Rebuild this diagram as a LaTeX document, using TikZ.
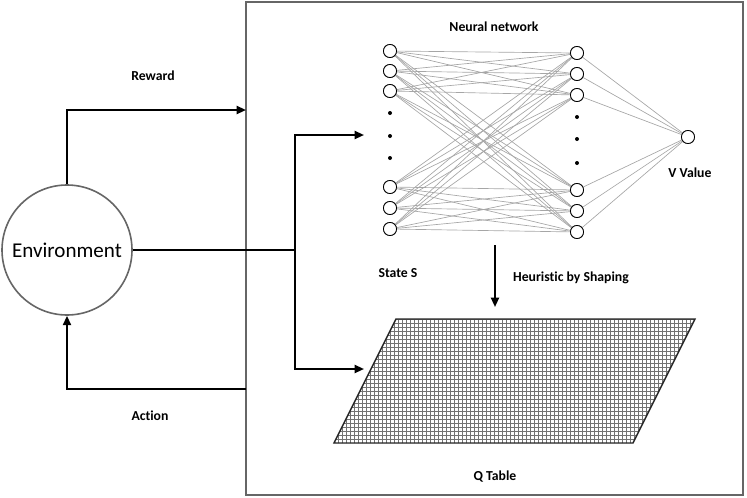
\documentclass[tikz,border=0pt]{standalone}
\usepackage{fontspec}
\setmainfont{Carlito}[Ligatures={NoCommon}]
\usetikzlibrary{arrows.meta}
\begin{document}
\begin{tikzpicture}[x=0.75pt,y=-0.75pt,
  neuron/.style={circle,draw=black,fill=white,line width=0.6pt,minimum size=9.8pt,inner sep=0pt},
  dotnode/.style={circle,fill=black,minimum size=3pt,inner sep=0pt},
  conn/.style={draw=gray!70,line width=0.5pt},
  flow/.style={draw=black,line width=1.5pt},
  flowarrow/.style={flow,-{Triangle[length=7pt,width=6pt]}},
  lbl/.style={font=\fontsize{10.3pt}{12pt}\selectfont\bfseries,inner sep=0pt}]
\useasboundingbox (0,0) rectangle (747,497);
% outer box
\draw[draw=black!60,line width=1.2pt] (246,2) rectangle (743,495);
% environment
\node[circle,draw=black!60,line width=1.2pt,fill=white,minimum size=97.5pt,inner sep=0pt,
  font=\fontsize{15.8pt}{18pt}\selectfont] (env) at (67,250) {Environment};
% neural network nodes
\foreach \i/\y in {1/51,2/71,3/91,4/187,5/208,6/229}{
  \node[neuron] (L\i) at (390,\y) {};
}
\foreach \i/\y in {1/53,2/74,3/95,4/190,5/211,6/232}{
  \node[neuron] (M\i) at (577,\y) {};
}
\node[neuron] (O) at (688,137) {};
\foreach \a in {1,...,6}{
  \foreach \b in {1,...,6}{
    \draw[conn] (L\a) -- (M\b);
  }
  \draw[conn] (M\a) -- (O);
}
% redraw neurons on top
\foreach \i/\y in {1/51,2/71,3/91,4/187,5/208,6/229}{
  \node[neuron] at (390,\y) {};
}
\foreach \i/\y in {1/53,2/74,3/95,4/190,5/211,6/232}{
  \node[neuron] at (577,\y) {};
}
\node[neuron] at (688,137) {};
\foreach \y [count=\k] in {113,136,158}{\node[dotnode] (dl\k) at (390,\y) {};}
\foreach \y [count=\k] in {117,139,163}{\node[dotnode] (dm\k) at (577,\y) {};}
% labels
\node[lbl] (nnl) at (494,27) {Neural network};
\node[lbl] (vv) at (690,173) {V Value};
\node[lbl] (rw) at (153,76) {Reward};
\node[lbl] (ac) at (150,416) {Action};
\node[lbl] (ss) at (398,273) {State S};
\node[lbl] (hs) at (571,278) {Heuristic by Shaping};
\node[lbl] (qt) at (495,477) {Q Table};
% Q table
\coordinate (q1) at (396,319);
\coordinate (q2) at (695,319);
\coordinate (q3) at (633,443);
\coordinate (q4) at (334,443);
\begin{scope}
  \clip (q1) -- (q2) -- (q3) -- (q4) -- cycle;
  \foreach \x in {334,338,...,698}{\draw[draw=black!55,line width=0.45pt] (\x,318) -- (\x,444);}
  \foreach \y in {319,323,...,443}{\draw[draw=black!55,line width=0.45pt] (330,\y) -- (700,\y);}
\end{scope}
\draw[draw=black!85,line width=1.1pt] (q1) -- (q2) -- (q3) -- (q4) -- cycle;
% connectors
\coordinate (rtop) at (67,110);
\coordinate (rend) at (246,110);
\draw[flowarrow] (env.north) -- (rtop) -- (rend);
\coordinate (br) at (295,250);
\coordinate (bt) at (295,135);
\coordinate (bb) at (295,369);
\coordinate (nnin) at (364,135);
\coordinate (qin) at (364,369);
\draw[flow] (env.east) -- (br);
\draw[flowarrow] (br) -- (bt) -- (nnin);
\draw[flowarrow] (br) -- (bb) -- (qin);
\coordinate (as) at (246,389);
\coordinate (ac2) at (67,389);
\draw[flowarrow] (as) -- (ac2) -- (env.south);
\coordinate (hstart) at (495,245);
\coordinate (hend) at (495,307);
\draw[flowarrow] (hstart) -- (hend);
\end{tikzpicture}
\end{document}
